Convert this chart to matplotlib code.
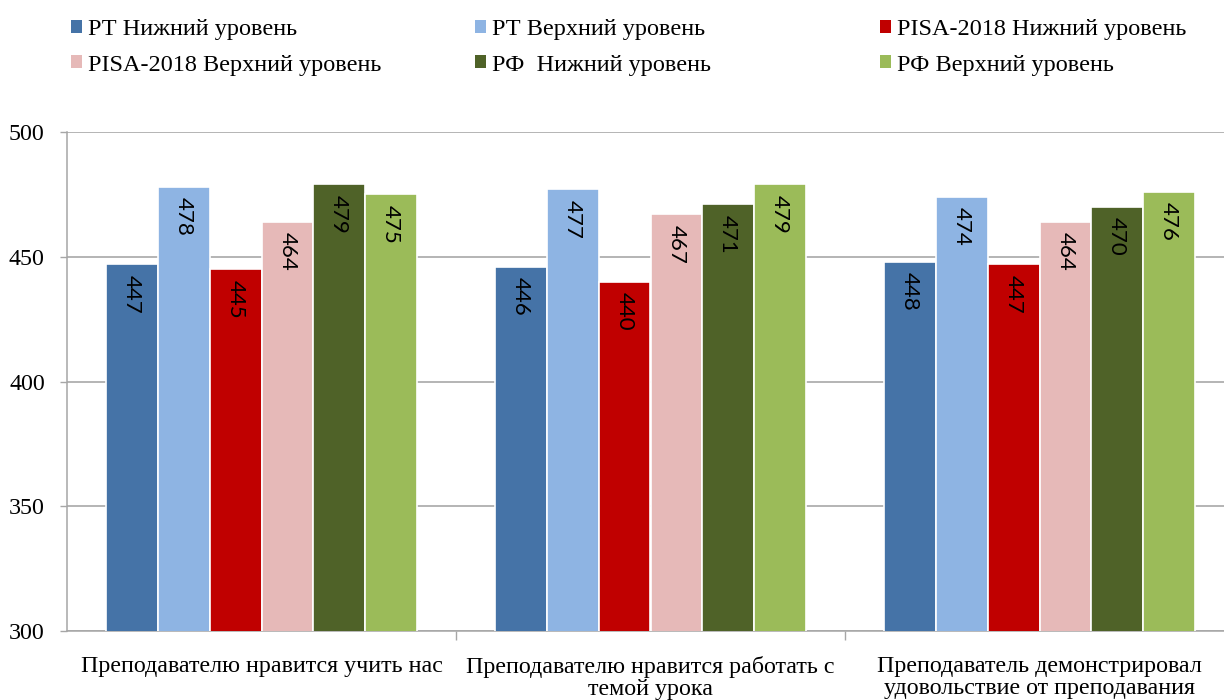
import matplotlib
matplotlib.use("Agg")
import matplotlib.pyplot as plt
import numpy as np

categories = ["Преподавателю нравится учить нас",
              "Преподавателю нравится работать с\nтемой урока",
              "Преподаватель демонстрировал\nудовольствие от преподавания"]
series_names = ["РТ Нижний уровень", "РТ Верхний уровень",
                "PISA-2018 Нижний уровень", "PISA-2018 Верхний уровень",
                "РФ  Нижний уровень", "РФ Верхний уровень"]
rt_low = [447, 446, 448]
rt_high = [478, 477, 474]
pisa_low = [445, 440, 447]
pisa_high = [464, 467, 464]
rf_low = [479, 471, 470]
rf_high = [475, 479, 476]
series_values = [rt_low, rt_high, pisa_low, pisa_high, rf_low, rf_high]
colors = ["#4573A7", "#8EB4E3", "#C00000", "#E6B9B8", "#4F6228", "#9BBB59"]
yticks = [300, 350, 400, 450, 500]

plt.rcParams['font.family'] = ['Liberation Serif', 'DejaVu Serif']

fig = plt.figure(figsize=(12.24, 7.0), dpi=100)
W, H = 1224, 700
ax = fig.add_axes([67 / W, 1 - 631 / H, 1167 / W, (631 - 132) / H])

x = np.arange(len(categories))
bw = 0.133
n = len(series_values)
bars_all = []
for i, (vals, col, name) in enumerate(zip(series_values, colors, series_names)):
    offs = (i - (n - 1) / 2) * bw
    bars = ax.bar(x + offs, vals, bw, color=col, edgecolor="white", linewidth=1.2,
                  label=name, zorder=3)
    bars_all.append(bars)
    for b, v in zip(bars, vals):
        ax.text(b.get_x() + b.get_width() / 2, v - 4.2, f"{v}", rotation=270,
                ha="center", va="top", fontsize=16, family=["Lato", "DejaVu Sans"],
                color="black", zorder=4)

ax.set_xlim(-0.5, 2.5)
ax.set_ylim(300, 500)
ax.set_yticks(yticks)
ax.tick_params(axis="y", labelsize=17.3, length=5, width=1, color="#A6A6A6", pad=11)
ax.grid(axis="y", color="#A0A0A0", linewidth=1.1, zorder=0)
ax.set_axisbelow(True)

ax.set_xticks(x)
ax.set_xticklabels(categories, fontsize=17.3, linespacing=1.05)
ax.tick_params(axis="x", length=0, pad=18)
ax.set_xticks([0.5, 1.5], minor=True)
ax.tick_params(axis="x", which="minor", length=6.5, width=1, color="#A6A6A6")

for s in ["top", "right"]:
    ax.spines[s].set_visible(False)
for s in ["left", "bottom"]:
    ax.spines[s].set_color("#A6A6A6")
    ax.spines[s].set_linewidth(1.1)

handles = [b for b in bars_all]
col_x = [71 / W, 475 / W, 880 / W]
for c in range(3):
    hs = [handles[c], handles[c + 3]]
    ls = [series_names[c], series_names[c + 3]]
    leg = fig.legend(hs, ls, loc="upper left", bbox_to_anchor=(col_x[c], 1 - 19 / H),
                     ncol=1, frameon=False, fontsize=17.5, handlelength=0.45,
                     handleheight=0.45, handletextpad=0.25, labelspacing=0.6,
                     borderaxespad=0, borderpad=0)
    for p in leg.get_patches():
        p.set_edgecolor("none")

fig.savefig("out.png", dpi=100)
